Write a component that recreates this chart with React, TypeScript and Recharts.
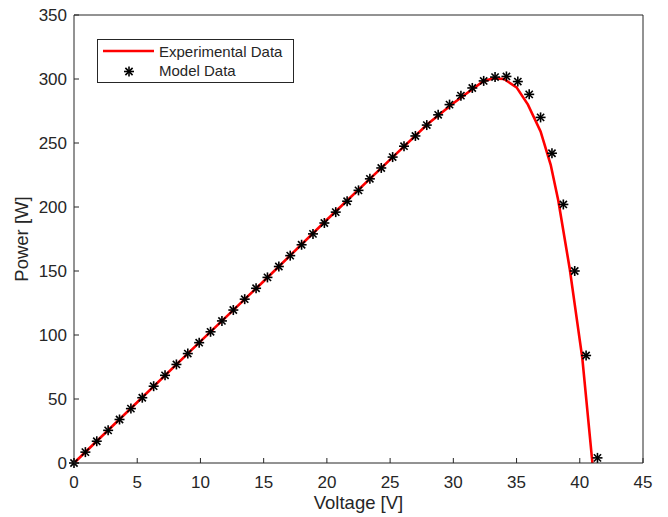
import React from 'react';
import { ComposedChart, Line, Scatter, XAxis, YAxis, Legend, Label } from 'recharts';

const modelVoltage = [0, 0.9, 1.8, 2.7, 3.6, 4.5, 5.4, 6.3, 7.2, 8.1, 9.0, 9.9, 10.8, 11.7, 12.6, 13.5, 14.4, 15.3, 16.2, 17.1, 18.0, 18.9, 19.8, 20.7, 21.6, 22.5, 23.4, 24.3, 25.2, 26.1, 27.0, 27.9, 28.8, 29.7, 30.6, 31.5, 32.4, 33.3, 34.2, 35.1, 36.0, 36.9, 37.8, 38.7, 39.6, 40.5, 41.4];
const modelPower = [0, 8.5, 17, 25.5, 34, 42.5, 51, 60, 68.5, 77, 85.5, 94, 102.5, 111, 119.5, 128, 136.5, 145, 153.5, 162, 170.5, 179, 187.5, 196, 204.5, 213, 222, 230.5, 239, 247.5, 255.5, 264, 272, 280, 287, 293, 298.5, 301.5, 302, 298, 288, 270, 242, 202, 150, 84, 4];

const expVoltage = [0, 5, 10, 15, 20, 25, 28, 30, 31.5, 32.4, 33.2, 34.0, 35.0, 35.9, 36.9, 37.7, 38.3, 39.2, 40.2, 41.0];
const expPower = [0, 47.5, 95, 142, 190, 237, 265, 281, 292, 298.5, 300.5, 300, 293.5, 280, 259, 233, 205, 152, 82, 0];

const xTicks = [0, 5, 10, 15, 20, 25, 30, 35, 40, 45];
const yTicks = [0, 50, 100, 150, 200, 250, 300, 350];
const seriesNames = ['Experimental Data', 'Model Data'];
const xLabel = 'Voltage [V]';
const yLabel = 'Power [W]';

const modelData = modelVoltage.map((v, i) => ({ v, p: modelPower[i] }));
const expData = expVoltage.map((v, i) => ({ v, p: expPower[i] }));

const AX = '#262626';
const FONT = '"Liberation Sans", Arial, Helvetica, sans-serif';
const RED = '#ff0000';

const StarMark = ({ cx, cy }: any) => {
  if (cx == null || cy == null) return null;
  const r = 5;
  const d = 3.6;
  return (
    <g stroke="#000" strokeWidth={1.6} strokeLinecap="butt">
      <line x1={cx - r} y1={cy} x2={cx + r} y2={cy} />
      <line x1={cx} y1={cy - r} x2={cx} y2={cy + r} />
      <line x1={cx - d} y1={cy - d} x2={cx + d} y2={cy + d} />
      <line x1={cx - d} y1={cy + d} x2={cx + d} y2={cy - d} />
    </g>
  );
};

const BottomTick = ({ x, y, payload }: any) => (
  <g>
    <line x1={x} y1={y} x2={x} y2={y - 5} stroke={AX} strokeWidth={1} />
    <text x={x} y={y + 24.5} textAnchor="middle" fontSize={17} fontFamily={FONT} fill={AX}>
      {payload.value}
    </text>
  </g>
);

const TopTick = ({ x, y }: any) => (
  <line x1={x} y1={y} x2={x} y2={y + 5} stroke={AX} strokeWidth={1} />
);

const LeftTick = ({ x, y, payload }: any) => (
  <g>
    <line x1={x} y1={y} x2={x + 5} y2={y} stroke={AX} strokeWidth={1} />
    <text x={x - 7} y={y + 6} textAnchor="end" fontSize={17} fontFamily={FONT} fill={AX}>
      {payload.value}
    </text>
  </g>
);

const RightTick = ({ x, y }: any) => (
  <line x1={x} y1={y} x2={x - 5} y2={y} stroke={AX} strokeWidth={1} />
);

const XLabelContent = (props: any) => {
  const vb = props.viewBox || { x: 74, y: 463, width: 569, height: 50 };
  return (
    <text x={vb.x + vb.width / 2} y={vb.y + 46} textAnchor="middle" fontSize={18.5} fontFamily={FONT} fill={AX}>
      {xLabel}
    </text>
  );
};

const YLabelContent = (props: any) => {
  const vb = props.viewBox || { x: 24, y: 15, width: 50, height: 448 };
  const cx = vb.x + 4;
  const cy = vb.y + vb.height / 2;
  return (
    <text x={cx} y={cy} transform={`rotate(-90 ${cx} ${cy})`} textAnchor="middle" fontSize={18.5} fontFamily={FONT} fill={AX}>
      {yLabel}
    </text>
  );
};

const LegendContent = () => (
  <svg width={197} height={44} style={{ display: 'block' }}>
    <rect x={0.5} y={0.5} width={196} height={43} fill="#fff" stroke={AX} strokeWidth={1} />
    <line x1={6} y1={12} x2={57} y2={12} stroke={RED} strokeWidth={2.6} />
    <text x={62} y={17.7} fontSize={15} fontFamily={FONT} fill={AX}>{seriesNames[0]}</text>
    <StarMark cx={32} cy={32.5} />
    <text x={62} y={36.5} fontSize={15} fontFamily={FONT} fill={AX}>{seriesNames[1]}</text>
  </svg>
);

export default function App() {
  return (
    <div style={{ position: 'absolute', left: 0, top: 0, width: 668, height: 517, background: '#fff' }}>
      <ComposedChart
        width={668}
        height={517}
        margin={{ top: 14, right: 24, bottom: 4, left: 24 }}
        style={{ fontFamily: FONT }}
      >
        <XAxis
          dataKey="v"
          type="number"
          domain={[0, 45]}
          ticks={xTicks}
          interval={0}
          height={50}
          tickSize={0}
          tickMargin={0}
          tickLine={false}
          axisLine={{ stroke: AX, strokeWidth: 1 }}
          tick={<BottomTick />}
        >
          <Label content={<XLabelContent />} />
        </XAxis>
        <XAxis
          xAxisId="top"
          orientation="top"
          dataKey="v"
          type="number"
          domain={[0, 45]}
          ticks={xTicks}
          interval={0}
          height={1}
          tickSize={0}
          tickMargin={0}
          tickLine={false}
          axisLine={{ stroke: AX, strokeWidth: 1 }}
          tick={<TopTick />}
        />
        <YAxis
          type="number"
          domain={[0, 350]}
          ticks={yTicks}
          interval={0}
          width={50}
          tickSize={0}
          tickMargin={0}
          tickLine={false}
          axisLine={{ stroke: AX, strokeWidth: 1 }}
          tick={<LeftTick />}
        >
          <Label content={<YLabelContent />} />
        </YAxis>
        <YAxis
          yAxisId="right"
          orientation="right"
          type="number"
          domain={[0, 350]}
          ticks={yTicks}
          interval={0}
          width={1}
          tickSize={0}
          tickMargin={0}
          tickLine={false}
          axisLine={{ stroke: AX, strokeWidth: 1 }}
          tick={<RightTick />}
        />
        <Legend
          layout="vertical"
          align="center"
          verticalAlign="middle"
          wrapperStyle={{ left: 97, top: 39, width: 'auto', height: 'auto' }}
          content={<LegendContent />}
        />
        <Line
          data={expData}
          dataKey="p"
          name={seriesNames[0]}
          type="linear"
          stroke={RED}
          strokeWidth={2.6}
          dot={false}
          activeDot={false}
          isAnimationActive={false}
        />
        <Scatter
          data={modelData}
          dataKey="p"
          name={seriesNames[1]}
          shape={<StarMark />}
          isAnimationActive={false}
        />
      </ComposedChart>
    </div>
  );
}
